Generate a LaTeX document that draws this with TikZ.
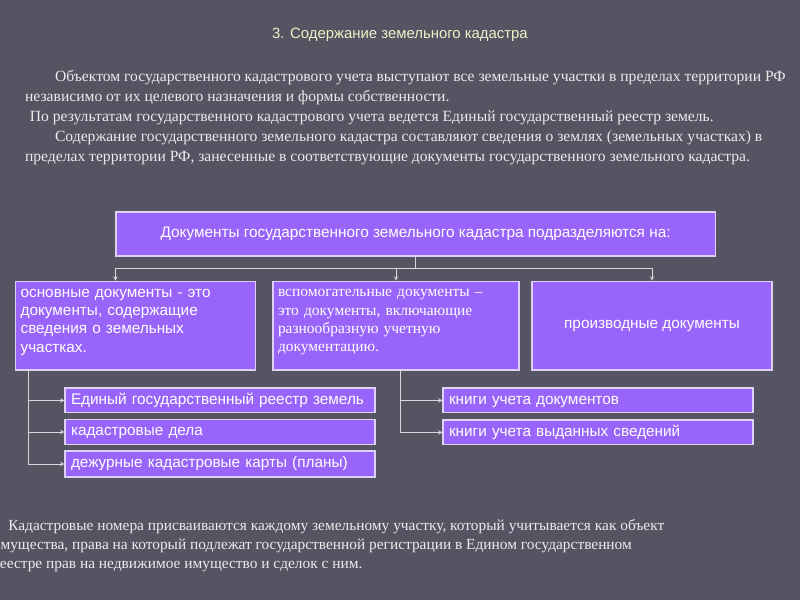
\documentclass[tikz,border=0pt]{standalone}
\usepackage{fontspec}
\setmainfont{Liberation Serif}
\setsansfont{Liberation Sans}
\usepackage{xcolor}
\usetikzlibrary{arrows, positioning, shapes}
\usetikzlibrary{calc}
\definecolor{bgslate}{RGB}{84,84,98}
\definecolor{boxviolet}{RGB}{153,100,250}
\definecolor{boxedge}{RGB}{222,208,248}
\definecolor{linegray}{RGB}{215,215,220}
\definecolor{titleyellow}{RGB}{240,240,200}
\definecolor{textgray}{RGB}{235,235,235}
\tikzstyle{link} = [thin,->,>=stealth,draw=linegray]
\tikzstyle{bus} = [thin,draw=linegray]
\tikzstyle{docbox} = [rectangle,draw=boxedge,fill=boxviolet,line width=0.8pt,text=white,font=\sffamily\fontsize{10.9}{13}\selectfont]
\tikzstyle{kindbox} = [docbox,minimum height=2.22cm,align=left]
\tikzstyle{listbox} = [docbox,minimum width=7.75cm,minimum height=0.62cm,text width=7.45cm,text height=8pt,text depth=2.5pt,align=left,inner sep=2pt]
\tikzstyle{prose} = [anchor=north west,align=left,inner sep=0pt,text=textgray,font=\fontsize{11.1}{14.2}\selectfont]

\begin{document}
\begin{tikzpicture}
        \fill[bgslate] (0,0) rectangle (20,-15);
        \clip (0,0) rectangle (20,-15);
        \node (title) [text=titleyellow,font=\sffamily\fontsize{10.6}{12}\selectfont] at (10,-0.875) {3. Содержание земельного кадастра};
        \node (intro) [prose] at (0.62,-1.76) {\hspace*{0.75cm}Объектом государственного кадастрового учета выступают все земельные участки в пределах территории РФ\\
        независимо от их целевого назначения и формы собственности.\\
        \hspace*{0.12cm}По результатам государственного кадастрового учета ведется Единый государственный реестр земель.\\
        \hspace*{0.75cm}Содержание государственного земельного кадастра составляют сведения о землях (земельных участках) в\\
        пределах территории РФ, занесенные в соответствующие документы государственного земельного кадастра.};

        \node (top) [docbox,minimum width=14.98cm,minimum height=1.1cm] at (10.39,-5.85) {Документы государственного земельного кадастра подразделяются на:};
        \node (main) [kindbox,minimum width=5.98cm,text width=5.75cm] at (3.39,-8.14) {основные документы - это\\ документы, содержащие\\ сведения о земельных\\ участках.\\[-6pt]\mbox{}};
        \node (aux) [kindbox,minimum width=6.15cm,text width=5.9cm,font=\rmfamily\fontsize{11}{13}\selectfont] at (9.9,-8.14) {вспомогательные документы –\\ это документы, включающие\\ разнообразную учетную\\ документацию.\\[-6pt]\mbox{}};
        \node (deriv) [kindbox,minimum width=6cm] at (16.3,-8.14) {производные документы};

        \coordinate (bus) at (0,-6.7);
        \draw [bus] (top.south) -- (top.south |- bus);
        \draw [bus] (bus -| top.west) -- (bus -| deriv.north);
        \draw [link] (bus -| top.west) -- (main.north -| top.west);
        \draw [link] (bus -| aux.north) -- (aux.north);
        \draw [link] (bus -| deriv.north) -- (deriv.north);

        \node (egrz) [listbox] at (5.5,-10.01) {Единый государственный реестр земель};
        \node (cases) [listbox] at (5.5,-10.8) {кадастровые дела};
        \node (maps) [listbox,minimum height=0.65cm] at (5.5,-11.6) {дежурные кадастровые карты (планы)};
        \node (books) [listbox] at (14.95,-10.01) {книги учета документов};
        \node (issued) [listbox] at (14.95,-10.81) {книги учета выданных сведений};

        \coordinate (mainfoot) at (main.south -| 0.7,0);
        \coordinate (auxfoot) at (aux.south -| 10,0);
        \draw [link] (mainfoot) |- (egrz.west);
        \draw [link] (mainfoot) |- (cases.west);
        \draw [link] (mainfoot) |- (maps.west);
        \draw [link] (auxfoot) |- (books.west);
        \draw [link] (auxfoot) |- (issued.west);

        \node (numbers) [prose,font=\fontsize{10.95}{13.6}\selectfont] at (-0.2,-12.98) {\hspace*{0.4cm}Кадастровые номера присваиваются каждому земельному участку, который учитывается как объект\\
        имущества, права на который подлежат государственной регистрации в Едином государственном\\
        реестре прав на недвижимое имущество и сделок с ним.};
\end{tikzpicture}
\end{document}
